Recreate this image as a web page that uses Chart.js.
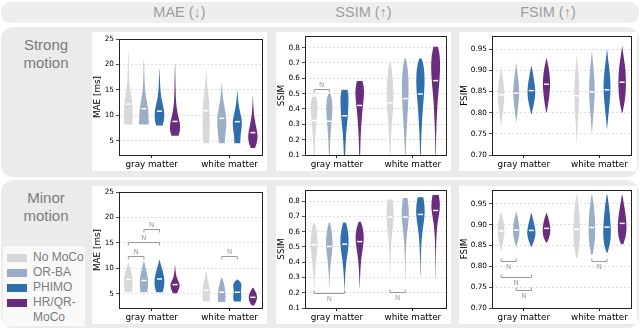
<!DOCTYPE html>
<html>
<head>
<meta charset="utf-8">
<script src="https://cdn.jsdelivr.net/npm/chart.js@4.4.1/dist/chart.umd.min.js"></script>
<style>
  body { margin: 0; width: 640px; height: 330px; position: relative; overflow: hidden; background: #fff; font-family: "Liberation Sans", Arial, sans-serif; }
  .box { position: absolute; background: #ebebeb; }
  .panel { position: absolute; background: #fff; }
  .coltitle { position: absolute; top: 2px; height: 21px; line-height: 21px; text-align: center; font-size: 14.5px; color: #9d9d9d; }
  .rowlabel { position: absolute; left: 0; width: 92px; text-align: center; font-size: 15px; line-height: 17.5px; color: #7b7b7b; }
  .legend { position: absolute; left: 3px; top: 246px; width: 82px; height: 80px; background: #f9f9f9; }
  .sw { position: absolute; left: 7px; width: 20px; height: 8px; }
  .legtext { position: absolute; left: 33px; top: 250px; font-size: 12px; line-height: 15px; color: #7b7b7b; }
</style>
</head>
<body>
<div class="box" style="left:1px;top:2px;width:638px;height:21px;border-radius:9px;background:#eeeeee"></div>
<div class="box" style="left:1px;top:27px;width:638px;height:150px;border-radius:12px"></div>
<div class="box" style="left:1px;top:180px;width:638px;height:148px;border-radius:12px"></div>

<div class="coltitle" style="left:92px;width:175px">MAE (↓)</div>
<div class="coltitle" style="left:276px;width:175px">SSIM (↑)</div>
<div class="coltitle" style="left:459px;width:178px">FSIM (↑)</div>

<div class="rowlabel" style="top:36px">Strong<br>motion</div>
<div class="rowlabel" style="top:189px">Minor<br>motion</div>

<div class="legend"></div>
<div id="legend"></div>

<div class="panel" style="left:92px;top:32px;width:175px;height:139px"><canvas id="c1" width="175" height="139"></canvas></div>
<div class="panel" style="left:276px;top:32px;width:175px;height:139px"><canvas id="c2" width="175" height="139"></canvas></div>
<div class="panel" style="left:459px;top:32px;width:178px;height:139px"><canvas id="c3" width="178" height="139"></canvas></div>
<div class="panel" style="left:92px;top:186px;width:175px;height:138px"><canvas id="c4" width="175" height="138"></canvas></div>
<div class="panel" style="left:276px;top:186px;width:175px;height:138px"><canvas id="c5" width="175" height="138"></canvas></div>
<div class="panel" style="left:459px;top:186px;width:178px;height:138px"><canvas id="c6" width="178" height="138"></canvas></div>

<script>
// categories
const groups = ['gray matter', 'white matter'];
const methods = ['No MoCo', 'OR-BA', 'PHIMO', 'HR/QR-MoCo'];
const colors = ['#d8d8d8', '#9cadc6', '#2f6fad', '#6b2c7f'];

// tick labels
const maeTicks = [5, 10, 15, 20, 25];
const ssimTicks = [0.1, 0.2, 0.3, 0.4, 0.5, 0.6, 0.7, 0.8];
const fsimTicks = [0.70, 0.75, 0.80, 0.85, 0.90, 0.95];

// medians [group][method]
const maeStrongMed = [[12.2, 11.3, 10.8, 8.8], [10.9, 9.4, 8.75, 6.6]];
const ssimStrongMed = [[0.325, 0.32, 0.356, 0.423], [0.44, 0.468, 0.498, 0.585]];
const fsimStrongMed = [[0.842, 0.846, 0.852, 0.867], [0.84, 0.849, 0.854, 0.872]];
const maeMinorMed = [[7.8, 7.6, 7.9, 6.8], [5.7, 5.3, 5.3, 4.3]];
const ssimMinorMed = [[0.514, 0.503, 0.518, 0.535], [0.696, 0.696, 0.713, 0.739]];
const fsimMinorMed = [[0.885, 0.887, 0.886, 0.891], [0.889, 0.893, 0.894, 0.903]];

// violin outlines: [value, relative density] from bottom to top
const maeStrongShape = [
  [
    [[8.2, 0.7], [9.5, 0.75], [11, 0.72], [12.5, 0.68], [14, 0.5], [15.5, 0.25], [17.5, 0.12], [22.9, 0.02]],
    [[8.2, 0.85], [9.5, 0.8], [11, 0.75], [12.5, 0.55], [14, 0.3], [16, 0.12], [21, 0.02]],
    [[8, 0.55], [9, 0.8], [10.5, 0.85], [12, 0.6], [13.5, 0.3], [15.5, 0.12], [19.1, 0.02]],
    [[6, 0.6], [7, 0.9], [8.5, 0.85], [10, 0.5], [12, 0.2], [14.5, 0.1], [20.1, 0.02]]
  ],
  [
    [[4.5, 0.5], [6, 0.6], [8, 0.62], [10, 0.6], [12, 0.55], [14, 0.4], [16, 0.15], [19.3, 0.02]],
    [[4.5, 0.5], [6, 0.6], [8, 0.8], [10, 0.75], [12, 0.4], [14, 0.15], [16.2, 0.02]],
    [[4.5, 0.5], [6, 0.55], [7.5, 0.75], [9, 0.8], [10.5, 0.5], [12.5, 0.15], [14.9, 0.02]],
    [[3.6, 0.35], [4.5, 0.7], [6, 0.85], [7.5, 0.6], [9.5, 0.25], [11.5, 0.08], [13.7, 0.02]]
  ]
];
const ssimStrongShape = [
  [
    [[0.02, 0.05], [0.15, 0.1], [0.25, 0.25], [0.33, 0.45], [0.4, 0.6], [0.45, 0.6], [0.48, 0.3]],
    [[0.02, 0.05], [0.15, 0.1], [0.25, 0.25], [0.33, 0.45], [0.4, 0.55], [0.46, 0.5], [0.497, 0.2]],
    [[0.02, 0.05], [0.15, 0.15], [0.25, 0.3], [0.33, 0.55], [0.42, 0.7], [0.5, 0.7], [0.525, 0.5]],
    [[0.02, 0.05], [0.15, 0.1], [0.28, 0.25], [0.38, 0.45], [0.46, 0.7], [0.53, 0.8], [0.583, 0.5]]
  ],
  [
    [[0.02, 0.03], [0.15, 0.08], [0.3, 0.3], [0.42, 0.55], [0.52, 0.6], [0.6, 0.45], [0.68, 0.25], [0.705, 0.1]],
    [[0.02, 0.03], [0.15, 0.08], [0.3, 0.3], [0.42, 0.5], [0.52, 0.6], [0.62, 0.55], [0.7, 0.3], [0.73, 0.1]],
    [[0.02, 0.03], [0.15, 0.08], [0.3, 0.25], [0.42, 0.45], [0.52, 0.7], [0.62, 0.75], [0.7, 0.5], [0.73, 0.2]],
    [[0.02, 0.03], [0.15, 0.05], [0.3, 0.15], [0.45, 0.35], [0.55, 0.6], [0.65, 0.8], [0.75, 0.75], [0.806, 0.4]]
  ]
];
const fsimStrongShape = [
  [
    [[0.766, 0.02], [0.79, 0.2], [0.82, 0.5], [0.845, 0.6], [0.87, 0.45], [0.89, 0.2], [0.909, 0.02]],
    [[0.777, 0.02], [0.8, 0.2], [0.825, 0.45], [0.85, 0.55], [0.875, 0.4], [0.9, 0.15], [0.917, 0.02]],
    [[0.797, 0.05], [0.815, 0.35], [0.835, 0.65], [0.855, 0.7], [0.875, 0.5], [0.895, 0.25], [0.911, 0.02]],
    [[0.801, 0.05], [0.82, 0.3], [0.845, 0.55], [0.865, 0.65], [0.885, 0.6], [0.905, 0.4], [0.928, 0.03]]
  ],
  [
    [[0.725, 0.02], [0.76, 0.12], [0.8, 0.3], [0.83, 0.42], [0.86, 0.42], [0.89, 0.3], [0.915, 0.15], [0.934, 0.02]],
    [[0.75, 0.02], [0.78, 0.15], [0.81, 0.35], [0.84, 0.5], [0.87, 0.48], [0.9, 0.33], [0.925, 0.15], [0.944, 0.02]],
    [[0.762, 0.02], [0.79, 0.2], [0.82, 0.45], [0.85, 0.62], [0.875, 0.6], [0.905, 0.4], [0.93, 0.15], [0.95, 0.02]],
    [[0.8, 0.05], [0.815, 0.3], [0.84, 0.6], [0.87, 0.68], [0.9, 0.6], [0.925, 0.35], [0.945, 0.12], [0.957, 0.02]]
  ]
];
const maeMinorShape = [
  [
    [[5.3, 0.6], [6.5, 0.75], [8, 0.72], [9.5, 0.5], [10.5, 0.2], [11.1, 0.02]],
    [[5.3, 0.6], [6.5, 0.7], [8, 0.7], [9.5, 0.45], [10.8, 0.15], [11.5, 0.02]],
    [[5.3, 0.55], [6.5, 0.85], [8, 0.85], [9.5, 0.55], [10.8, 0.2], [11.7, 0.02]],
    [[5.1, 0.35], [6, 0.75], [7, 0.8], [8, 0.35], [9, 0.12], [10.6, 0.02]]
  ],
  [
    [[3.5, 0.6], [5, 0.65], [6.5, 0.55], [7.8, 0.3], [9.4, 0.02]],
    [[3.4, 0.6], [4.5, 0.7], [5.5, 0.6], [6.8, 0.45], [8.3, 0.02]],
    [[3.5, 0.6], [4.5, 0.75], [5.5, 0.55], [6.5, 0.75], [7.3, 0.6], [7.8, 0.05]],
    [[2.7, 0.2], [3.5, 0.65], [4.5, 0.75], [5.5, 0.45], [6.2, 0.05]]
  ]
];
const ssimMinorShape = [
  [
    [[0.19, 0.02], [0.3, 0.08], [0.4, 0.3], [0.47, 0.55], [0.53, 0.62], [0.6, 0.5], [0.655, 0.15]],
    [[0.22, 0.02], [0.3, 0.06], [0.4, 0.25], [0.47, 0.5], [0.53, 0.6], [0.6, 0.45], [0.66, 0.1]],
    [[0.22, 0.02], [0.3, 0.1], [0.4, 0.3], [0.47, 0.6], [0.53, 0.75], [0.6, 0.65], [0.66, 0.25]],
    [[0.232, 0.02], [0.32, 0.08], [0.42, 0.25], [0.5, 0.6], [0.56, 0.75], [0.62, 0.6], [0.665, 0.2]]
  ],
  [
    [[0.306, 0.02], [0.45, 0.1], [0.55, 0.25], [0.63, 0.5], [0.7, 0.65], [0.77, 0.6], [0.81, 0.45]],
    [[0.284, 0.02], [0.45, 0.08], [0.55, 0.2], [0.63, 0.45], [0.7, 0.65], [0.77, 0.6], [0.82, 0.4]],
    [[0.31, 0.02], [0.45, 0.08], [0.55, 0.2], [0.63, 0.45], [0.7, 0.75], [0.77, 0.75], [0.826, 0.5]],
    [[0.3, 0.02], [0.45, 0.05], [0.58, 0.15], [0.66, 0.35], [0.72, 0.65], [0.78, 0.8], [0.84, 0.55]]
  ]
];
const fsimMinorShape = [
  [
    [[0.837, 0.02], [0.855, 0.3], [0.875, 0.6], [0.895, 0.6], [0.915, 0.35], [0.929, 0.05]],
    [[0.847, 0.02], [0.862, 0.35], [0.88, 0.6], [0.9, 0.5], [0.918, 0.25], [0.931, 0.03]],
    [[0.847, 0.05], [0.86, 0.45], [0.875, 0.75], [0.89, 0.7], [0.91, 0.35], [0.927, 0.05]],
    [[0.857, 0.1], [0.87, 0.55], [0.885, 0.7], [0.9, 0.6], [0.915, 0.35], [0.927, 0.05]]
  ],
  [
    [[0.82, 0.1], [0.85, 0.5], [0.88, 0.6], [0.91, 0.55], [0.94, 0.4], [0.972, 0.05]],
    [[0.827, 0.1], [0.85, 0.45], [0.88, 0.6], [0.91, 0.55], [0.94, 0.4], [0.972, 0.05]],
    [[0.833, 0.1], [0.855, 0.6], [0.885, 0.7], [0.915, 0.55], [0.945, 0.35], [0.972, 0.05]],
    [[0.853, 0.2], [0.87, 0.7], [0.9, 0.8], [0.925, 0.6], [0.95, 0.3], [0.971, 0.05]]
  ]
];

// "N" (not significant) brackets: [group, method a, method b, value]
const ssimStrongBr = [[0, 0, 1, 0.53]];
const maeMinorBr = [[0, 0, 1, 12.4], [0, 0, 2, 15.2], [0, 1, 2, 17.7], [1, 1, 2, 12.4]];
const ssimMinorBr = [[0, 0, 2, 0.197], [1, 0, 1, 0.208]];
const fsimMinorBr = [[0, 0, 1, 0.813], [0, 0, 2, 0.775], [0, 1, 2, 0.742], [1, 1, 2, 0.813]];

// legend
const leg = document.getElementById('legend');
methods.forEach((m, i) => {
  const s = document.createElement('div');
  s.className = 'sw';
  s.style.top = (253.5 + i * 15.3) + 'px';
  s.style.background = colors[i];
  leg.appendChild(s);
});
const lt = document.createElement('div');
lt.className = 'legtext';
lt.innerHTML = 'No MoCo<br>OR-BA<br>PHIMO<br>HR/QR-<br>MoCo';
leg.appendChild(lt);

const FAM = 'DejaVu Sans';
Chart.defaults.font.family = FAM;
Chart.defaults.color = '#000';

const offsets = methods.map((m, i) => (i - 1.5) * 0.2);
const halfW = 0.075;

function smooth(ctx, P) {
  ctx.lineTo(P[0].x, P[0].y);
  for (let k = 1; k < P.length - 1; k++) {
    ctx.quadraticCurveTo(P[k].x, P[k].y, (P[k].x + P[k + 1].x) / 2, (P[k].y + P[k + 1].y) / 2);
  }
  ctx.lineTo(P[P.length - 1].x, P[P.length - 1].y);
}

const violinPlugin = {
  id: 'violins',
  beforeDatasetsDraw(chart, args, opts) {
    const { ctx, chartArea: a, scales: { x, y } } = chart;
    ctx.save();
    ctx.beginPath();
    ctx.rect(a.left, a.top, a.right - a.left, a.bottom - a.top);
    ctx.clip();
    opts.shapes.forEach((grp, g) => grp.forEach((prof, i) => {
      const cx = x.getPixelForValue(g + offsets[i]);
      const hw = x.getPixelForValue(g + offsets[i] + halfW) - cx;
      const R = prof.map(([v, w]) => ({ x: cx + w * hw, y: y.getPixelForValue(v) }));
      const L = prof.map(([v, w]) => ({ x: cx - w * hw, y: y.getPixelForValue(v) })).reverse();
      ctx.beginPath();
      ctx.moveTo(L[L.length - 1].x, L[L.length - 1].y);
      smooth(ctx, R);
      smooth(ctx, L);
      ctx.closePath();
      ctx.fillStyle = colors[i];
      ctx.fill();
    }));
    ctx.restore();
  },
  afterDatasetsDraw(chart, args, opts) {
    const { ctx, chartArea: a, scales: { x, y } } = chart;
    ctx.save();
    // brackets
    ctx.strokeStyle = '#9a9a9a';
    ctx.fillStyle = '#9a9a9a';
    ctx.lineWidth = 1;
    ctx.font = '7px "DejaVu Sans"';
    ctx.textAlign = 'center';
    opts.brackets.forEach(([g, i, j, v]) => {
      const x1 = x.getPixelForValue(g + offsets[i]);
      const x2 = x.getPixelForValue(g + offsets[j]);
      const yy = Math.round(y.getPixelForValue(v)) + 0.5;
      const d = opts.below ? -3 : 3;
      ctx.beginPath();
      ctx.moveTo(x1, yy + d);
      ctx.lineTo(x1, yy);
      ctx.lineTo(x2, yy);
      ctx.lineTo(x2, yy + d);
      ctx.stroke();
      if (opts.below) {
        ctx.textBaseline = 'top';
        ctx.fillText('N', (x1 + x2) / 2, yy + 2);
      } else {
        ctx.textBaseline = 'bottom';
        ctx.fillText('N', (x1 + x2) / 2, yy - 1);
      }
    });
    // frame
    ctx.strokeStyle = '#222';
    ctx.lineWidth = 1;
    ctx.strokeRect(a.left + 0.5, a.top + 0.5, a.right - a.left - 1, a.bottom - a.top);
    ctx.restore();
  }
};

function makePanel(id, p) {
  const datasets = methods.map((m, i) => ({
    label: m,
    data: groups.map((g, gi) => ({ x: gi + offsets[i], y: p.med[gi][i] })),
    pointStyle: 'line',
    pointRadius: 2.5,
    pointHoverRadius: 2.5,
    borderColor: '#ffffff',
    backgroundColor: '#ffffff',
    borderWidth: 1.5
  }));
  return new Chart(document.getElementById(id), {
    type: 'scatter',
    data: { datasets },
    plugins: [violinPlugin],
    options: {
      responsive: false,
      animation: false,
      events: [],
      layout: { padding: { top: p.padTop, right: p.padRight, left: 0, bottom: 0 } },
      plugins: {
        legend: { display: false },
        tooltip: { enabled: false },
        violins: { shapes: p.shape, brackets: p.br, below: p.below }
      },
      scales: {
        x: {
          type: 'linear',
          min: -0.42,
          max: p.xMax,
          afterBuildTicks: s => { s.ticks = groups.map((g, gi) => ({ value: gi })); },
          afterFit: s => { s.height = p.xH; s.paddingLeft = 0; s.paddingRight = 0; },
          ticks: { callback: (v, i) => groups[i], font: { family: FAM, size: 8.8 }, padding: 1, maxRotation: 0, autoSkip: false },
          grid: { drawOnChartArea: false, drawTicks: true, tickLength: 3, tickColor: '#222' },
          border: { display: false }
        },
        y: {
          min: p.ticks[0] - p.lo,
          max: p.yMax,
          afterBuildTicks: s => { s.ticks = p.ticks.map(v => ({ value: v })); },
          afterFit: s => { s.width = p.yW; s.paddingTop = 0; s.paddingBottom = 0; },
          ticks: { callback: v => v.toFixed(p.dec), font: { family: FAM, size: 7.3 }, padding: 2, autoSkip: false },
          grid: { color: '#d6d6d6', lineWidth: 0.8, drawTicks: true, tickLength: 3, tickColor: '#222', tickBorderDash: [] },
          border: { display: false, dash: [2, 2] },
          title: { display: true, text: p.title, font: { family: FAM, size: 8.8 }, padding: { top: 0, bottom: 0 } }
        }
      }
    }
  });
}

makePanel('c1', { med: maeStrongMed, shape: maeStrongShape, br: [], below: false, ticks: maeTicks, lo: 2.8, yMax: 25, dec: 0, title: 'MAE [ms]', yW: 27, padTop: 7, padRight: 2, xH: 16, xMax: 1.43 });
makePanel('c2', { med: ssimStrongMed, shape: ssimStrongShape, br: ssimStrongBr, below: false, ticks: ssimTicks, lo: 0, yMax: 0.876, dec: 1, title: 'SSIM', yW: 29, padTop: 4, padRight: 2, xH: 16, xMax: 1.45 });
makePanel('c3', { med: fsimStrongMed, shape: fsimStrongShape, br: [], below: true, ticks: fsimTicks, lo: 0, yMax: 0.981, dec: 2, title: 'FSIM', yW: 33, padTop: 4, padRight: 5, xH: 16, xMax: 1.43 });
makePanel('c4', { med: maeMinorMed, shape: maeMinorShape, br: maeMinorBr, below: false, ticks: maeTicks, lo: 2.8, yMax: 25, dec: 0, title: 'MAE [ms]', yW: 27, padTop: 6, padRight: 2, xH: 16, xMax: 1.43 });
makePanel('c5', { med: ssimMinorMed, shape: ssimMinorShape, br: ssimMinorBr, below: true, ticks: ssimTicks, lo: 0, yMax: 0.873, dec: 1, title: 'SSIM', yW: 29, padTop: 3, padRight: 2, xH: 16, xMax: 1.45 });
makePanel('c6', { med: fsimMinorMed, shape: fsimMinorShape, br: fsimMinorBr, below: true, ticks: fsimTicks, lo: 0, yMax: 0.983, dec: 2, title: 'FSIM', yW: 33, padTop: 3, padRight: 5, xH: 16, xMax: 1.43 });
</script>
</body>
</html>
